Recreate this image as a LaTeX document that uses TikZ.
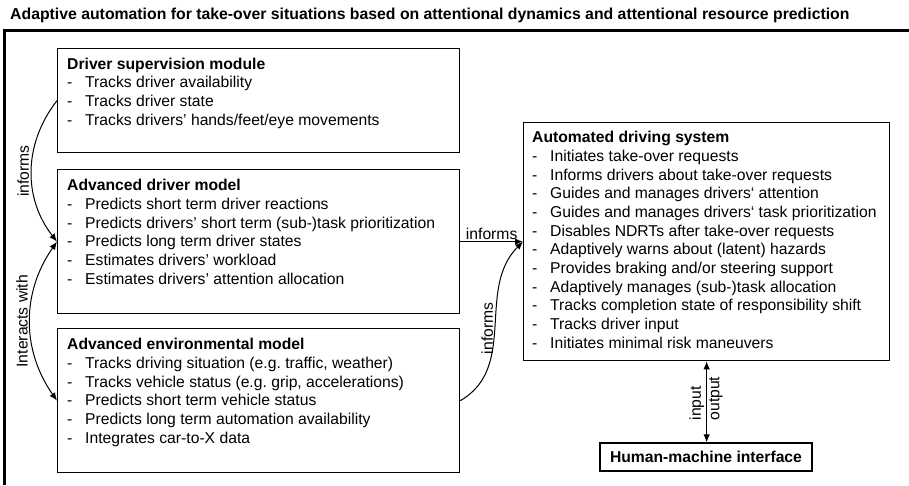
\documentclass[tikz,border=0pt]{standalone}
\usepackage{fontspec}
\setmainfont{Liberation Sans}
\usetikzlibrary{arrows.meta}
\frenchspacing
% hanging dash for list entries inside the module boxes
\newcommand\dashitem{\makebox[18pt][l]{-}}

\begin{document}
\begin{tikzpicture}[
  x=1pt, y=1pt,
  >={Latex[length=8pt,width=6.5pt]},
  txt/.style={font=\fontsize{15.7pt}{18.65pt}\selectfont},
  modbox/.style={draw=black, line width=1.3pt, inner sep=0pt, anchor=north west},
  boxtext/.style={txt, anchor=north west, inner sep=0pt, align=left},
  link/.style={draw=black, line width=1pt},
  lbl/.style={txt, inner sep=2pt}
]
\useasboundingbox (0,0) rectangle (909,485);
\fill[white] (0,0) rectangle (909,485);

% heading
\node[anchor=west, inner sep=0pt, font=\fontsize{15.8pt}{18pt}\selectfont\bfseries] (title) at (10,470)
  {Adaptive automation for take-over situations based on attentional dynamics and attentional resource prediction};

% surrounding frame (top and left edges)
\draw[line width=3pt] (909,454) -- (4,454) -- (4,0);

% module boxes
\node[modbox, minimum width=402pt, minimum height=104pt] (b1) at (57,437) {};
\node[modbox, minimum width=402pt, minimum height=144pt] (b2) at (57,316) {};
\node[modbox, minimum width=402pt, minimum height=144pt] (b3) at (57,157) {};
\node[modbox, minimum width=366pt, minimum height=238pt] (ads) at (523,363) {};
\node[draw=black, line width=1.3pt, inner sep=0pt, minimum width=212pt, minimum height=28pt,
      txt, font=\fontsize{15.7pt}{18pt}\selectfont\bfseries] (hmi) at (706,28) {Human-machine interface};

% box contents
\node[boxtext] (t1) at ([shift={(10pt,-9.5pt)}]b1.north west) {%
  {\bfseries Driver supervision module}\\
  \dashitem Tracks driver availability\\
  \dashitem Tracks driver state\\
  \dashitem Tracks drivers’ hands/feet/eye movements};

\node[boxtext] (t2) at ([shift={(10pt,-10.4pt)}]b2.north west) {%
  {\bfseries Advanced driver model}\\
  \dashitem Predicts short term driver reactions\\
  \dashitem Predicts drivers’ short term (sub-)task prioritization\\
  \dashitem Predicts long term driver states\\
  \dashitem Estimates drivers’ workload\\
  \dashitem Estimates drivers’ attention allocation};

\node[boxtext] (t3) at ([shift={(10pt,-10.4pt)}]b3.north west) {%
  {\bfseries Advanced environmental model}\\
  \dashitem Tracks driving situation (e.g. traffic, weather)\\
  \dashitem Tracks vehicle status (e.g. grip, accelerations)\\
  \dashitem Predicts short term vehicle status\\
  \dashitem Predicts long term automation availability\\
  \dashitem Integrates car-to-X data};

\node[boxtext] (t4) at ([shift={(9pt,-9.4pt)}]ads.north west) {%
  {\bfseries Automated driving system}\\
  \dashitem Initiates take-over requests\\
  \dashitem Informs drivers about take-over requests\\
  \dashitem Guides and manages drivers‘ attention\\
  \dashitem Guides and manages drivers‘ task prioritization\\
  \dashitem Disables NDRTs after take-over requests\\
  \dashitem Adaptively warns about (latent) hazards\\
  \dashitem Provides braking and/or steering support\\
  \dashitem Adaptively manages (sub-)task allocation\\
  \dashitem Tracks completion state of responsibility shift\\
  \dashitem Tracks driver input\\
  \dashitem Initiates minimal risk maneuvers};

% connectors
\draw[link, ->] (b1.west) to[bend right=38]
  node[lbl, rotate=90, anchor=south] (l1) {informs} (b2.west);
\draw[link, <->] (b2.west) to[bend right=35]
  node[lbl, rotate=90, anchor=south] (l2) {Interacts with} (b3.west);
\draw[link, ->] (b2.east) --
  node[lbl, above, inner sep=1pt] (l3) {informs} (ads.west);
\draw[link, ->] (b3.east) to[out=30, in=225]
  node[lbl, pos=0.5, rotate=90, anchor=south, xshift=-2pt] (l4) {informs} (ads.west);
\draw[link, <->] (ads.south) -- (ads.south |- hmi.north)
  node[lbl, pos=0.76, rotate=90, anchor=south west] (l5) {input}
  node[lbl, pos=0.76, rotate=90, anchor=north west] (l6) {output};
\end{tikzpicture}
\end{document}
